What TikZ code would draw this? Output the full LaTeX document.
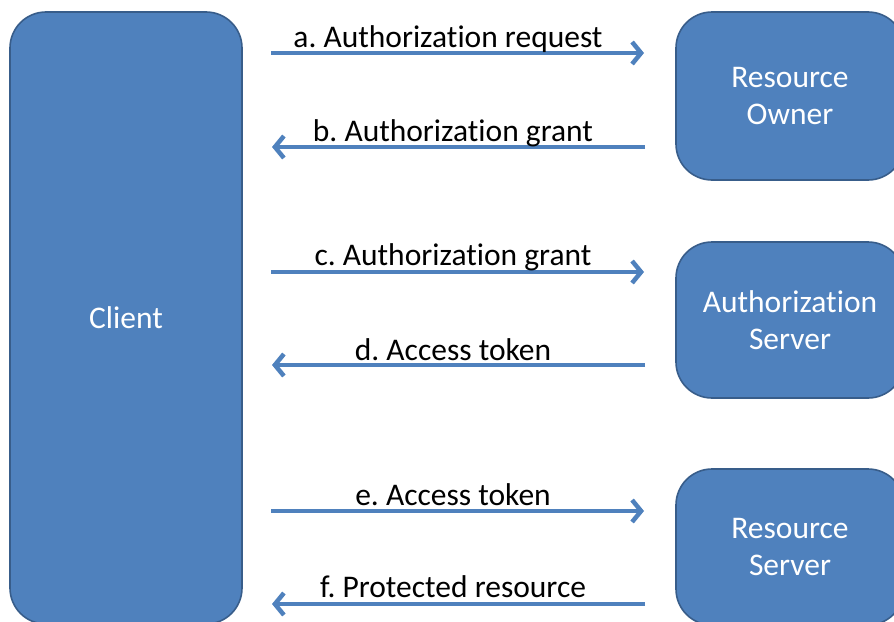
\documentclass[tikz,border=0pt]{standalone}
\usepackage{fontspec}
\setmainfont{Carlito}[Ligatures=NoCommon]
\usetikzlibrary{arrows.meta,positioning}
\definecolor{boxblue}{HTML}{4F81BD}
\definecolor{boxline}{HTML}{385D8A}
\tikzset{
	party/.style={rounded corners=36pt,fill=boxblue,draw=boxline,line width=1.6pt,
		text=white,align=center,font=\fontsize{31.5}{37}\selectfont,inner sep=0pt},
	flow/.style={line width=4.5pt,color=boxblue,-{Straight Barb[length=9pt,width=22pt]}},
	msg/.style={anchor=base,inner sep=0pt,font=\fontsize{31.5}{36}\selectfont}
}
\frenchspacing
\begin{document}
\begin{tikzpicture}[x=1pt,y=-1pt]
				\useasboundingbox (0,0) rectangle (894,621);
				\clip (0,0) rectangle (894,621);
				%%%% parties
				\node[party,minimum width=232pt,minimum height=612pt] (client) at (126,318) {Client};
				\node[party,minimum width=228pt,minimum height=168pt] (owner) at (790,96) {Resource\\Owner};
				\node[party,minimum width=228pt,minimum height=156pt] (authsrv) at (790,320) {Authorization\\Server};
				\node[party,minimum width=228pt,minimum height=156pt] (ressrv) at (790,547) {Resource\\Server};
				
				%%%% end points of the messages
				\coordinate (a1) at (271,53);  \coordinate (a2) at (644,53);
				\coordinate (b1) at (645,147); \coordinate (b2) at (272,147);
				\coordinate (c1) at (271,272); \coordinate (c2) at (644,272);
				\coordinate (d1) at (645,365); \coordinate (d2) at (272,365);
				\coordinate (e1) at (271,511); \coordinate (e2) at (644,511);
				\coordinate (f1) at (645,604); \coordinate (f2) at (272,604);
				
				%%%% messages
				\draw[flow] (a1) -- (a2);
				\draw[flow] (b1) -- (b2);
				\draw[flow] (c1) -- (c2);
				\draw[flow] (d1) -- (d2);
				\draw[flow] (e1) -- (e2);
				\draw[flow] (f1) -- (f2);
				
				\node[msg] (la) at (448,47) {a. Authorization request};
				\node[msg] (lb) at (453,141) {b. Authorization grant};
				\node[msg] (lc) at (453,265) {c. Authorization grant};
				\node[msg] (ld) at (453,360) {d. Access token};
				\node[msg] (le) at (453,505) {e. Access token};
				\node[msg] (lf) at (453,597) {f. Protected resource};
\end{tikzpicture}
\end{document}
